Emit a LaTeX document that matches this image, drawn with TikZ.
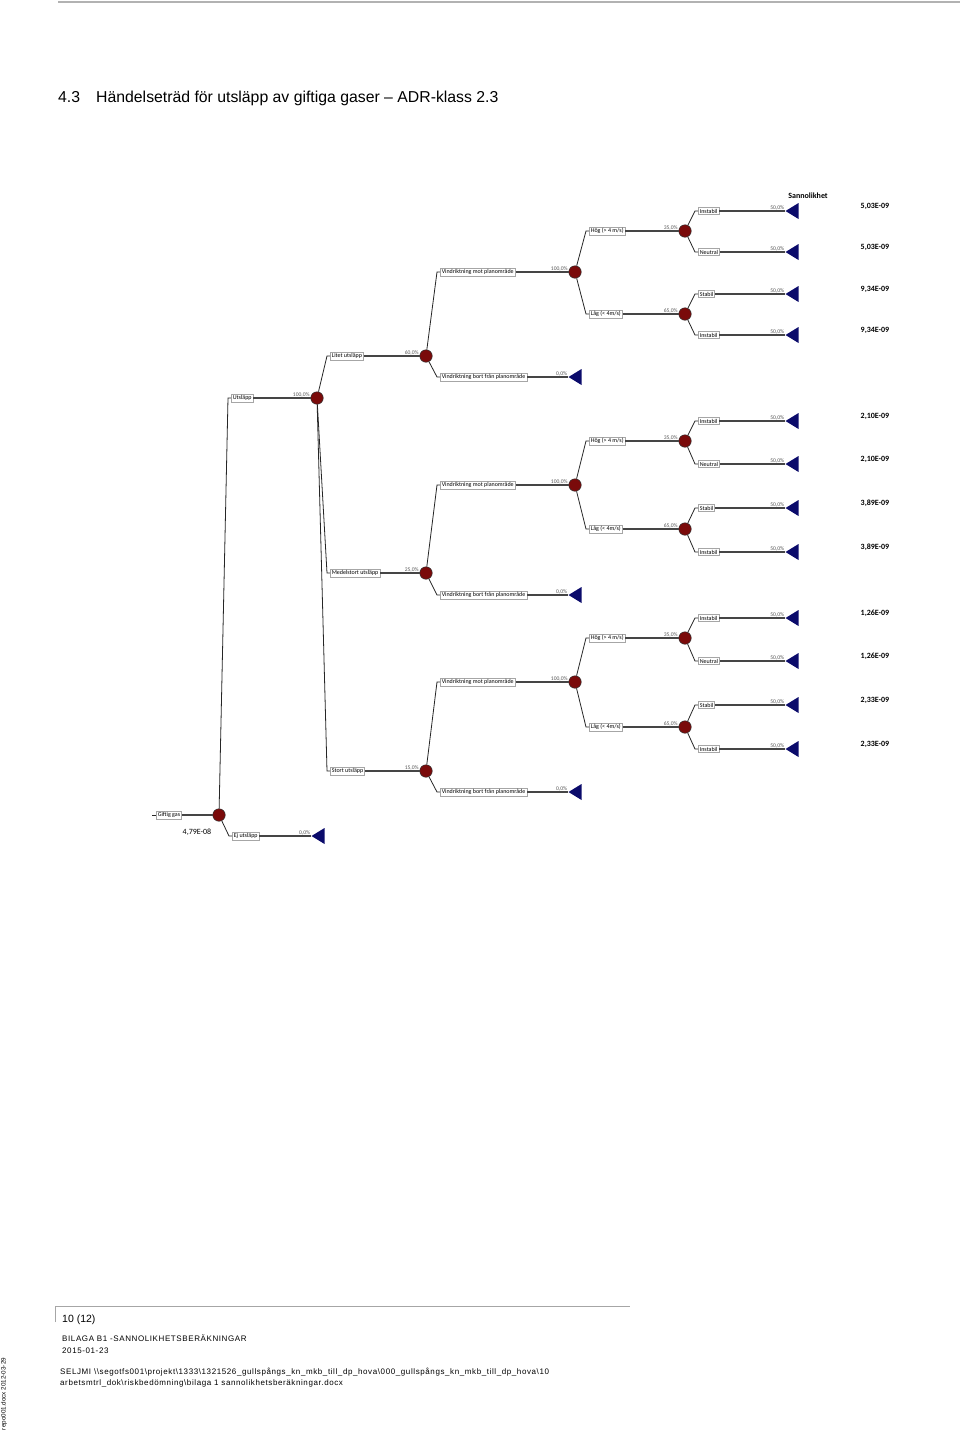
\documentclass[tikz,border=0pt]{standalone}
\usepackage{fontspec}
\setmainfont{Liberation Sans}
\newfontfamily\treefont{Carlito}
\newfontfamily\footfont[LetterSpace=7.5]{Liberation Sans}
\usetikzlibrary{shapes.geometric}
\definecolor{nodered}{HTML}{7A0A0A}
\definecolor{navyblue}{HTML}{0B0B6B}
\definecolor{edgegray}{HTML}{454545}
\tikzset{
 lbl/.style={draw=gray!70, fill=white, anchor=west, font=\treefont\fontsize{6}{7}\selectfont, inner xsep=1.5pt, inner ysep=1.3pt, line width=0.6pt},
 chance/.style={circle, draw=black!80, fill=nodered, minimum size=12.5pt, inner sep=0pt, line width=0.5pt},
 term/.style={isosceles triangle, isosceles triangle stretches, shape border rotate=180, minimum width=16pt, minimum height=13pt, inner sep=0pt, fill=navyblue, anchor=apex},
 pct/.style={font=\treefont\fontsize{5.6}{6.5}\selectfont, text=gray!70!black, anchor=south east, inner sep=0.6pt},
 val/.style={font=\treefont\bfseries\fontsize{8}{9}\selectfont, anchor=center},
 arm/.style={draw=black!85, line width=0.8pt},
 run/.style={draw=edgegray, line width=1.3pt},
 foot/.style={anchor=base west, inner sep=0pt, font=\footfont\fontsize{8}{9}\selectfont},
}
\newcommand\treearm[2]{\draw[arm] (#1) -- ([xshift=-3pt]#2.west) -- (#2.west);}
\begin{document}
\begin{tikzpicture}[x=1pt,y=-1pt]
\useasboundingbox (0,0) rectangle (960,1435);
\fill[white] (0,0) rectangle (960,1435);
% page header
\draw[gray!60, line width=1.5pt] (58,2) -- (960,2);
\node[anchor=base west, inner sep=0pt, font=\fontsize{15.8}{17}\selectfont] (num) at (58,102) {4.3};
\node[anchor=base west, inner sep=0pt, font=\fontsize{15.8}{17}\selectfont] (title) at (96,102) {Händelseträd för utsläpp av giftiga gaser – ADR-klass 2.3};
% root
\node[lbl] (gg) at (156,815) {Giftig gas};
\node[chance] (g) at (219,815) {};
\draw[arm] ([xshift=-4pt]gg.west) -- (gg.west);
\draw[run] (gg.east) -- (g);
\node[font=\treefont\fontsize{8}{9}\selectfont] (gval) at (197,832) {4,79E-08};
% Utslapp
\node[lbl] (ut) at (231,398) {Utsläpp};
\node[chance] (u) at (317,398) {};
\treearm{g}{ut}
\draw[run] (ut.east) -- (u);
\node[pct] at (u.west) {100,0\%};
% Ej utslapp
\node[lbl] (ej) at (232,836) {Ej utsläpp};
\node[term] (e) at (311,836) {};
\treearm{g}{ej}
\draw[run] (ej.east) -- (e.apex);
\node[pct] at (e.apex) {0,0\%};
% header of probabilities
\node[font=\treefont\bfseries\fontsize{8}{9}\selectfont] (sann) at (808,196) {Sannolikhet};
\foreach \p/\sz/\pc/\ys/\ym/\yb/\yh/\yl/\ea/\eb/\ec/\ed/\va/\vb/\vc/\vd in {
 a/{Litet utsläpp}/{60,0\%}/356/272/377/231/314/211/252/294/335/{5,03E-09}/{5,03E-09}/{9,34E-09}/{9,34E-09},
 b/{Medelstort utsläpp}/{25,0\%}/573/485/595/441/529/421/464/508/552/{2,10E-09}/{2,10E-09}/{3,89E-09}/{3,89E-09},
 c/{Stort utsläpp}/{15,0\%}/771/682/792/638/727/618/661/705/749/{1,26E-09}/{1,26E-09}/{2,33E-09}/{2,33E-09}}{
 \node[lbl] (\p-S) at (330,\ys) {\sz};
 \node[chance] (\p-s) at (426,\ys) {};
 \treearm{u}{\p-S}
 \draw[run] (\p-S.east) -- (\p-s);
 \node[pct] at (\p-s.west) {\pc};
 % mot
 \node[lbl] (\p-M) at (440,\ym) {Vindriktning mot planområde};
 \node[chance] (\p-m) at (575,\ym) {};
 \treearm{\p-s}{\p-M}
 \draw[run] (\p-M.east) -- (\p-m);
 \node[pct] at (\p-m.west) {100,0\%};
 % bort
 \node[lbl] (\p-B) at (440,\yb) {Vindriktning bort från planområde};
 \node[term] (\p-b) at (568,\yb) {};
 \treearm{\p-s}{\p-B}
 \draw[run] (\p-B.east) -- (\p-b.apex);
 \node[pct] at (\p-b.apex) {0,0\%};
 % hog
 \node[lbl] (\p-H) at (589,\yh) {Hög (> 4 m/s)};
 \node[chance] (\p-h) at (685,\yh) {};
 \treearm{\p-m}{\p-H}
 \draw[run] (\p-H.east) -- (\p-h);
 \node[pct] at (\p-h.west) {35,0\%};
 % lag
 \node[lbl] (\p-L) at (589,\yl) {Låg (< 4m/s)};
 \node[chance] (\p-l) at (685,\yl) {};
 \treearm{\p-m}{\p-L}
 \draw[run] (\p-L.east) -- (\p-l);
 \node[pct] at (\p-l.west) {65,0\%};
 % leaves
 \node[lbl] (\p-X1) at (698,\ea) {Instabil};
 \node[term] (\p-T1) at (785,\ea) {};
 \treearm{\p-h}{\p-X1}
 \draw[run] (\p-X1.east) -- (\p-T1.apex);
 \node[pct] at (\p-T1.apex) {50,0\%};
 \node[val] (\p-V1) at (875,\ea-5) {\va};
 \node[lbl] (\p-X2) at (698,\eb) {Neutral};
 \node[term] (\p-T2) at (785,\eb) {};
 \treearm{\p-h}{\p-X2}
 \draw[run] (\p-X2.east) -- (\p-T2.apex);
 \node[pct] at (\p-T2.apex) {50,0\%};
 \node[val] (\p-V2) at (875,\eb-5) {\vb};
 \node[lbl] (\p-X3) at (698,\ec) {Stabil};
 \node[term] (\p-T3) at (785,\ec) {};
 \treearm{\p-l}{\p-X3}
 \draw[run] (\p-X3.east) -- (\p-T3.apex);
 \node[pct] at (\p-T3.apex) {50,0\%};
 \node[val] (\p-V3) at (875,\ec-5) {\vc};
 \node[lbl] (\p-X4) at (698,\ed) {Instabil};
 \node[term] (\p-T4) at (785,\ed) {};
 \treearm{\p-l}{\p-X4}
 \draw[run] (\p-X4.east) -- (\p-T4.apex);
 \node[pct] at (\p-T4.apex) {50,0\%};
 \node[val] (\p-V4) at (875,\ed-5) {\vd};
}
% footer
\draw[gray!70, line width=0.8pt] (55,1322) -- (55,1306) -- (630,1306);
\node[anchor=base west, inner sep=0pt, font=\fontsize{10.5}{12}\selectfont] (page) at (62,1322) {10 (12)};
\node[foot] (bil) at (62,1341) {BILAGA B1 -SANNOLIKHETSBERÄKNINGAR};
\node[foot] (date) at (62,1353) {2015-01-23};
\node[foot] (path1) at (60,1374) {SELJMI \textbackslash\textbackslash segotfs001\textbackslash projekt\textbackslash 1333\textbackslash 1321526\_gullspångs\_kn\_mkb\_till\_dp\_hova\textbackslash 000\_gullspångs\_kn\_mkb\_till\_dp\_hova\textbackslash 10};
\node[foot] (path2) at (60,1385) {arbetsmtrl\_dok\textbackslash riskbedömning\textbackslash bilaga 1 sannolikhetsberäkningar.docx};
\node[rotate=90, inner sep=0pt, font=\fontsize{6.3}{7}\selectfont] (repo) at (4,1394) {repo001.docx 2012-03-29};
\end{tikzpicture}
\end{document}
